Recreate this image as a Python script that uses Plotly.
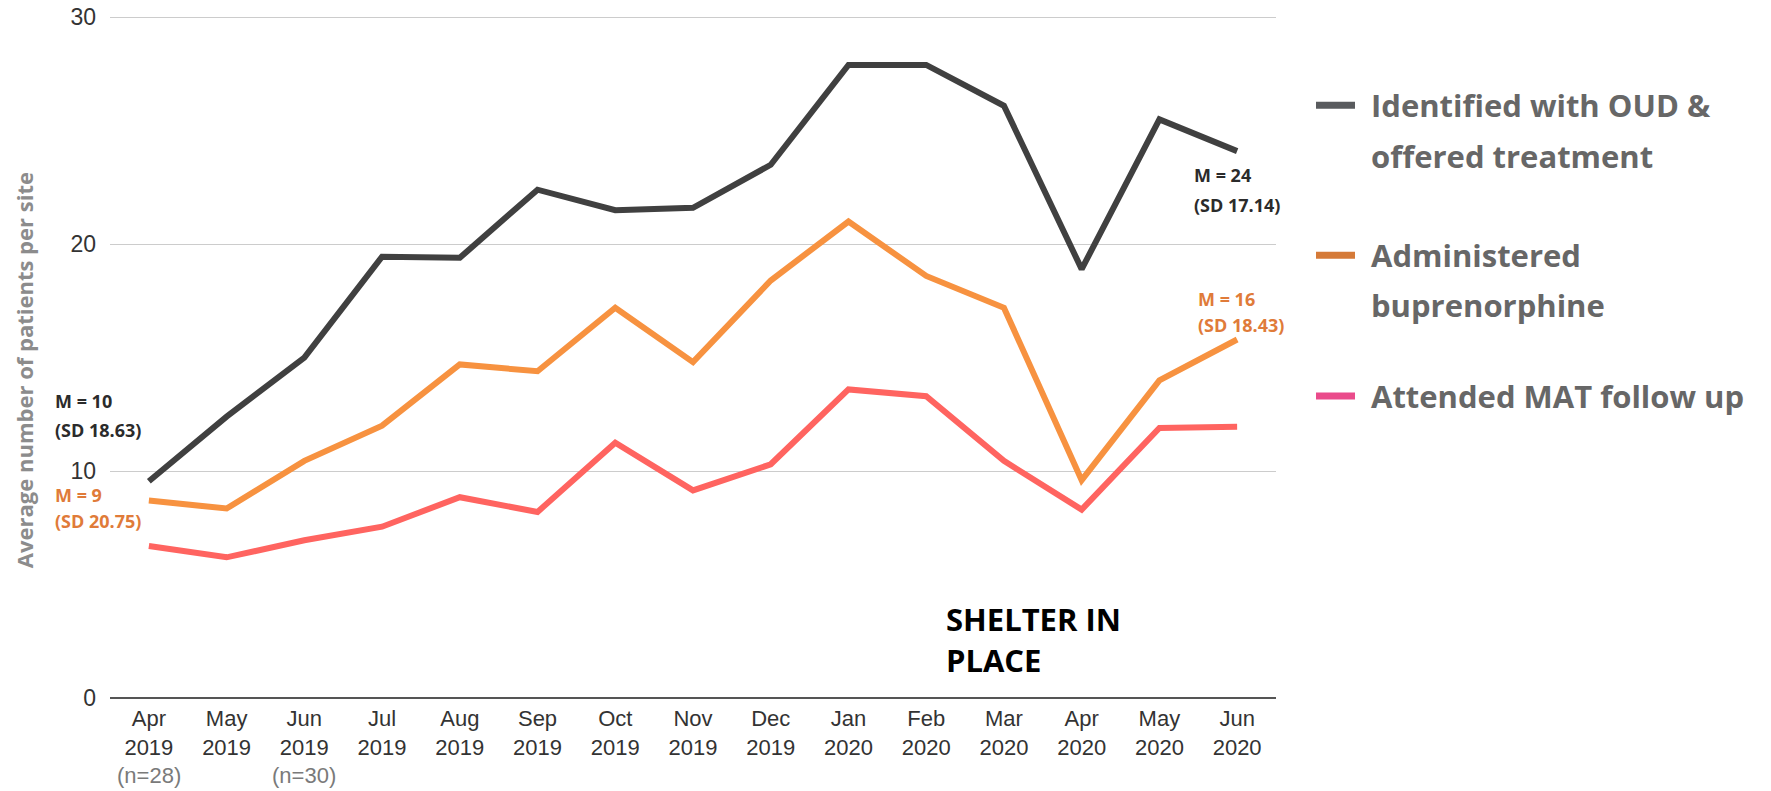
import plotly.graph_objects as go

months = ["Apr<br>2019", "May<br>2019", "Jun<br>2019", "Jul<br>2019", "Aug<br>2019", "Sep<br>2019",
          "Oct<br>2019", "Nov<br>2019", "Dec<br>2019", "Jan<br>2020", "Feb<br>2020", "Mar<br>2020",
          "Apr<br>2020", "May<br>2020", "Jun<br>2020"]
identified = [9.55, 12.4, 15.0, 19.45, 19.4, 22.4, 21.5, 21.6, 23.5, 27.9, 27.9, 26.1, 18.9, 25.5, 24.1]
administered = [8.7, 8.35, 10.45, 12.0, 14.7, 14.4, 17.2, 14.8, 18.4, 21.0, 18.6, 17.2, 9.6, 14.0, 15.8]
attended = [6.7, 6.2, 6.95, 7.55, 8.85, 8.2, 11.25, 9.15, 10.3, 13.6, 13.3, 10.45, 8.3, 11.9, 11.95]
y_ticks = [0, 10, 20, 30]
n_notes = {0: "(n=28)", 2: "(n=30)"}

legend_names = [["Identified with OUD &", "offered treatment"],
                ["Administered", "buprenorphine"],
                ["Attended MAT follow up"]]
legend_colors = ["#595b5e", "#d57a38", "#ea4b8b"]
line_colors = ["#404040", "#f79240", "#ff6460"]
series_names = ["Identified with OUD & offered treatment", "Administered buprenorphine",
                "Attended MAT follow up"]

# page geometry in reference pixel coordinates (page body margin removed below)
W, H = 1771, 791
YMAX = 30.1
L, R, B = 110, 1276, 698
T = B - (B - 17) * YMAX / 30.0


def px(x):
    return (x - L) / (R - L)


def py(y):
    return (B - y) / (B - T)


SANS = "'Open Sans', sans-serif"
ARIAL = "'Liberation Sans', Arial, sans-serif"

fig = go.Figure()
for vals, col, name in zip([identified, administered, attended], line_colors, series_names):
    fig.add_trace(go.Scatter(x=list(range(len(months))), y=vals, mode="lines", name=name,
                             line=dict(color=col, width=6), showlegend=False))

annotations = []
shapes = []

# legend (drawn manually: legend swatch colours differ from line colours)
leg_rows = [[105, 156], [255, 305], [396]]
for names, col, rows in zip(legend_names, legend_colors, leg_rows):
    shapes.append(dict(type="line", xref="paper", yref="paper", x0=px(1316), x1=px(1355),
                       y0=py(rows[0]), y1=py(rows[0]), line=dict(color=col, width=7)))
    for t, r in zip(names, rows):
        annotations.append(dict(xref="paper", yref="paper", x=px(1369), y=py(r), xanchor="left",
                                yanchor="middle", text=t, showarrow=False,
                                font=dict(family=SANS, size=31, color="#676767", weight="bold")))

# mean annotations
mean_notes = [
    (53, [401, 430], ["M = 10", "(SD 18.63)"], "#2b2b2b"),
    (53, [495, 521], ["M = 9", "(SD 20.75)"], "#e07b39"),
    (1192, [175, 205], ["M = 24", "(SD 17.14)"], "#2b2b2b"),
    (1196, [299, 325], ["M = 16", "(SD 18.43)"], "#e07b39"),
]
for x0, rows, texts, col in mean_notes:
    for t, r in zip(texts, rows):
        annotations.append(dict(xref="paper", yref="paper", x=px(x0), y=py(r), xanchor="left",
                                yanchor="middle", text=t, showarrow=False,
                                font=dict(family=SANS, size=18, color=col, weight="bold")))

for t, r in zip(["SHELTER IN", "PLACE"], [619, 660]):
    annotations.append(dict(xref="paper", yref="paper", x=px(944), y=py(r), xanchor="left",
                            yanchor="middle", text=t, showarrow=False,
                            font=dict(family=SANS, size=31, color="#000000", weight="bold")))

for i, t in n_notes.items():
    annotations.append(dict(xref="x", yref="paper", x=i, y=py(776), xanchor="center",
                            yanchor="middle", text=t, showarrow=False,
                            font=dict(family=ARIAL, size=22, color="#7a7a7a")))

# y-axis title
annotations.append(dict(xref="paper", yref="paper", x=px(24), y=py(370), xanchor="center",
                        yanchor="middle", text="Average number of patients per site", textangle=-90,
                        showarrow=False,
                        font=dict(family=SANS, size=22, color="#8c8c8c", weight="bold")))

fig.update_layout(
    width=W, height=H,
    margin=dict(l=L, r=W - R, t=T, b=H - B, pad=0, autoexpand=False),
    paper_bgcolor="white", plot_bgcolor="white",
    showlegend=False,
    annotations=annotations, shapes=shapes,
    xaxis=dict(tickmode="array", tickvals=list(range(len(months))), ticktext=months,
               range=[-0.5, len(months) - 0.5], showgrid=False, zeroline=False, showline=False,
               ticks="", ticklabelstandoff=5, automargin=False,
               tickfont=dict(family=ARIAL, size=22, color="#333333")),
    yaxis=dict(range=[0, YMAX], tickvals=y_ticks, showgrid=True, gridcolor="#cccccc", gridwidth=1,
               zeroline=True, zerolinecolor="#555555", zerolinewidth=2, showline=False,
               ticks="", ticklabelstandoff=13, ticklabeloverflow="allow", automargin=False,
               tickfont=dict(family=ARIAL, size=23, color="#333333")),
)

fig.write_html("out.html", config={"displayModeBar": False},
               post_script="document.body.style.margin='0px';document.body.style.overflow='hidden';")
